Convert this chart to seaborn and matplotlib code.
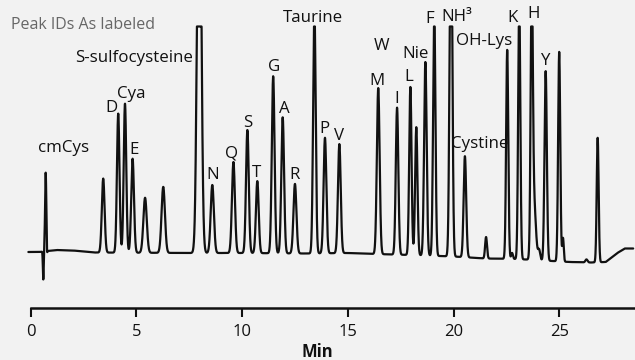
import numpy as np
import pandas as pd
import matplotlib
matplotlib.use("Agg")
import matplotlib.pyplot as plt
import seaborn as sns

# ---- data ----
peak_times = [0.596, 0.71, 0.76, 3.43, 4.14, 4.46, 4.82, 5.41, 6.27, 7.97, 8.59, 9.59,
              10.25, 10.72, 11.47, 11.92, 12.50, 13.42, 13.92, 14.60, 16.44, 17.33,
              17.96, 18.24, 18.67, 19.09, 19.88, 20.54, 21.54, 22.54, 22.77, 23.11,
              23.70, 23.80, 24.05, 24.36, 25.00, 25.18, 26.29, 26.82]
peak_heights = [-28, 79, -10, 74, 139, 149, 94, 55, 66, 480, 68, 91,
                123, 72, 177, 136, 69.5, 245, 115.5, 109, 166, 147,
                168, 128, 193.5, 245, 400, 101, 21.5, 209, 6, 260,
                260, 60, 10, 189.5, 209.5, 23.5, 3, 124.5]
peak_widths = [0.02, 0.03, 0.02, 0.065, 0.06, 0.06, 0.065, 0.08, 0.08, 0.092, 0.075, 0.07,
               0.065, 0.065, 0.065, 0.065, 0.07, 0.06, 0.065, 0.065, 0.065, 0.06,
               0.055, 0.055, 0.06, 0.055, 0.06, 0.06, 0.045, 0.05, 0.04, 0.05,
               0.05, 0.09, 0.05, 0.055, 0.05, 0.035, 0.05, 0.045]
saturation_level = 225.5

baseline_times = [-0.2, 0.4, 1.2, 2.0, 3.0, 7.5, 10.0, 13.0, 15.0, 16.3, 18.0, 20.0,
                  21.5, 23.0, 25.5, 26.5, 27.2, 27.75, 28.1, 28.6]
baseline_offsets = [0, 0, 2, 1.5, -0.5, -1, -1, -1.5, -1, -2, -3, -4.5,
                    -6.5, -7, -10, -10.5, -10, -1, 3.5, 3.5]

label_texts = ["cmCys", "D", "Cya", "E", "S-sulfocysteine", "N", "Q", "S", "T", "G",
               "A", "R", "Taurine", "P", "V", "W", "M", "I", "L", "Nie", "F",
               "NH\u00b3", "OH-Lys", "Cystine", "K", "H", "Y"]
label_times = [1.542, 3.832, 4.768, 4.877, 4.877, 8.586, 9.522, 10.255, 10.69, 11.50,
               12.015, 12.50, 13.368, 13.888, 14.598, 16.604, 16.367, 17.313, 17.862,
               18.193, 18.888, 20.175, 21.433, 21.216, 22.80, 23.775, 24.33]
label_levels = [99.7, 139.7, 153.7, 98, 189.7, 72.7, 95, 125.3, 75.3, 181.3,
                138.7, 73, 230.3, 118.7, 112, 202, 167, 148.7, 171,
                194.3, 228.7, 231, 207, 103.7, 230.3, 233.7, 187]

tick_values = [0, 5, 10, 15, 20, 25]
x_label = "Min"
note_text = "Peak IDs As labeled"

# ---- build the trace from the peak table ----
t = np.linspace(-0.11, 28.5, 9000)
signal = np.interp(t, baseline_times, baseline_offsets)
for tc, h, w in zip(peak_times, peak_heights, peak_widths):
    signal = signal + h * np.exp(-0.5 * ((t - tc) / w) ** 2)
signal = np.minimum(signal, saturation_level)
df = pd.DataFrame({"Min": t, "signal": signal})

sns.set_theme(style="white")
plt.rcParams["font.family"] = ["Open Sans", "DejaVu Sans"]

bg = "#f2f2f2"
fig = plt.figure(figsize=(6.35, 3.6), dpi=100, facecolor=bg)
ax = fig.add_axes([0, 52 / 360, 1, 308 / 360])
ax.set_facecolor(bg)

sns.lineplot(data=df, x="Min", y="signal", ax=ax, color="#111111",
             linewidth=1.6, estimator=None, sort=False)

x_left = -30.7 / 21.14
x_right = (635 - 30.7) / 21.14
ax.set_xlim(x_left, x_right)
ax.set_ylim(-56, 252)

for s in ["top", "left", "right"]:
    ax.spines[s].set_visible(False)
ax.spines["bottom"].set_color("#111111")
ax.spines["bottom"].set_linewidth(1.8)
ax.spines["bottom"].set_bounds(0, x_right)
ax.set_yticks([])
ax.set_xticks(tick_values)
ax.set_xticklabels([str(v) for v in tick_values])
ax.tick_params(axis="x", direction="out", length=6.5, width=1.5, color="#111111",
               labelsize=12, pad=5, labelcolor="#111111", bottom=True)
ax.set_xlabel(x_label, fontsize=12, fontweight="bold", color="#111111", labelpad=2)
ax.set_ylabel("")

for txt, lt, lv in zip(label_texts, label_times, label_levels):
    ax.text(lt, lv, txt, ha="center", va="baseline", fontsize=12.2, color="#111111")

ax.text(x_left + 11 / 21.14, 222.7, note_text, ha="left", va="baseline",
        fontsize=11.5, color="#666666")

fig.savefig("out.png", dpi=100, facecolor=bg)
